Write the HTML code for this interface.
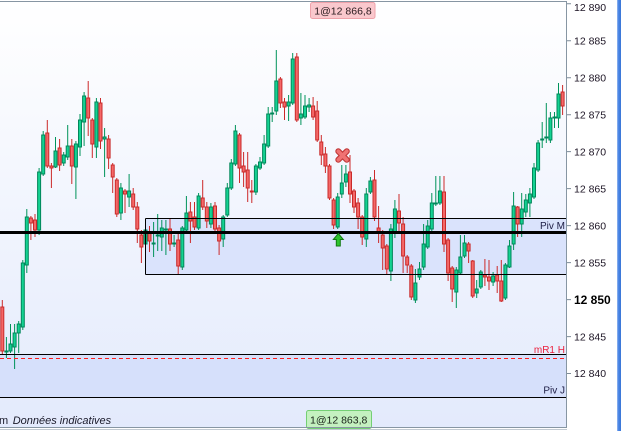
<!DOCTYPE html>
<html><head><meta charset="utf-8"><style>
html,body{margin:0;padding:0;background:#fff;}
body{width:621px;height:431px;overflow:hidden;}
svg{display:block;font-family:"Liberation Sans",sans-serif;}
</style></head><body>
<svg width="621" height="431" viewBox="0 0 621 431" xmlns="http://www.w3.org/2000/svg">
<defs>
<linearGradient id="bg" x1="0" y1="0" x2="0" y2="1">
<stop offset="0" stop-color="#ffffff"/><stop offset="1" stop-color="#e3eafc"/>
</linearGradient>
<linearGradient id="strip" x1="0" y1="0" x2="1" y2="0">
<stop offset="0" stop-color="#9dbcf0"/><stop offset="0.35" stop-color="#4a86e6"/><stop offset="1" stop-color="#3a76d6"/>
</linearGradient>
</defs>
<rect x="0" y="0" width="621" height="431" fill="#ffffff"/>
<rect x="0" y="1" width="566" height="426" fill="url(#bg)"/>
<rect x="145.5" y="218.5" width="420.5" height="56" fill="#dae3fc"/>
<rect x="0" y="354.5" width="566" height="43" fill="#d6e0fb"/>

<!-- wicks -->
<path fill="none" stroke="#00935a" stroke-width="1" d="M6.4 337V358 M10.5 324V353 M14.6 324V369 M18.7 321V353 M22.8 260V330 M26.8 209V273 M39.1 168V235 M43.2 131V176 M55.5 137V168 M63.7 152V166 M67.7 125V160 M75.9 141V199 M80 114V156 M84.1 92V146 M96.4 98V158 M104.6 128V177 M120.9 183V220 M129.1 174V207 M145.5 228V246 M153.6 222V257 M157.7 214V251 M161.8 220V251 M165.9 220V255 M174.1 235V247 M182.3 226V270 M186.4 196V232 M198.6 193V230 M210.9 203V228 M223.2 215V247 M227.3 183V217 M231.3 159V190 M235.4 125V166 M255.9 164V195 M260 157V170 M264.1 135V165 M268.2 107V148 M272.2 107V122 M276.3 50V115 M288.6 95V121 M292.7 53V105 M300.9 93V125 M305 95V119 M309.1 98V112 M337.7 193V229 M341.8 165V198 M345.9 165V187 M366.3 188V247 M370.4 177V194 M390.9 224V281 M394.9 200V238 M415.4 269V303 M419.5 262V280 M423.6 224V270 M427.7 220V249 M431.8 193V231 M435.8 176V206 M439.9 176V205 M456.3 267V308 M460.4 235V275 M464.5 235V258 M476.7 280V298 M480.8 270V289 M493.1 272V286 M505.4 263V300 M509.5 240V268 M513.6 192V250 M521.7 193V237 M525.8 194V217 M529.9 188V217 M534 163V199 M538.1 140V172 M542.2 122V148 M546.3 103V143 M550.4 112V143 M554.5 112V128 M558.5 83V128"/>
<path fill="none" stroke="#cc2a2a" stroke-width="1" d="M2.3 300V354 M30.9 216V240 M35 214V237 M47.3 120V168 M51.4 163V188 M59.6 139V171 M71.8 139V184 M88.2 81V136 M92.3 118V158 M100.5 98V149 M108.6 135V169 M112.7 163V193 M116.8 178V217 M125 189V213 M133.2 188V210 M137.3 202V243 M141.4 230V263 M149.5 226V252 M170 219V251 M178.2 233V274 M190.4 202V243 M194.5 202V230 M202.7 180V210 M206.8 202V228 M215 202V233 M219.1 225V255 M239.5 133V183 M243.6 152V187 M247.7 152V202 M251.8 180V203 M280.4 77V108 M284.5 98V120 M296.8 53V122 M313.1 97V120 M317.2 101V142 M321.3 135V165 M325.4 147V173 M329.5 164V200 M333.6 198V229 M350 155V203 M354 189V213 M358.1 198V229 M362.2 215V245 M374.5 170V221 M378.6 206V243 M382.7 230V270 M386.8 244V274 M399 194V233 M403.1 217V273 M407.2 255V273 M411.3 264V300 M444 176V252 M448.1 238V281 M452.2 266V302 M468.6 242V263 M472.7 260V298 M484.9 259V286 M489 260V290 M497.2 266V293 M501.3 260V302 M517.6 206V237 M562.6 85V115"/>

<!-- bodies -->
<path fill="#14d292" stroke="#00875a" stroke-width="1" d="M4.9 351h3v1h-3z M9 344h3v7h-3z M13.1 333h3v14h-3z M17.2 324h3v9h-3z M21.3 263h3v64h-3z M25.3 217h3v48h-3z M37.6 172h3v58h-3z M41.7 135h3v39h-3z M54 151h3v16h-3z M62.2 155h3v8h-3z M66.2 146h3v11h-3z M74.4 144h3v23h-3z M78.5 120h3v27h-3z M82.6 96h3v26h-3z M94.9 102h3v45h-3z M103.1 137h3v2h-3z M119.4 188h3v25h-3z M127.6 191h3v6h-3z M144 230h3v14h-3z M152.1 243h3v1h-3z M156.2 235h3v1h-3z M160.3 228h3v9h-3z M164.4 229h3v1h-3z M172.6 243h3v1h-3z M180.8 228h3v39h-3z M184.9 213h3v17h-3z M197.1 196h3v32h-3z M209.4 207h3v17h-3z M221.7 217h3v22h-3z M225.8 188h3v27h-3z M229.8 163h3v25h-3z M233.9 131h3v33h-3z M254.4 166h3v26h-3z M258.5 162h3v6h-3z M262.6 144h3v19h-3z M266.7 114h3v32h-3z M270.7 113h3v1h-3z M274.8 81h3v30h-3z M287.1 102h3v4h-3z M291.2 59h3v44h-3z M299.4 114h3v4h-3z M303.5 106h3v11h-3z M307.6 105h3v2h-3z M336.2 197h3v30h-3z M340.3 183h3v11h-3z M344.4 174h3v8h-3z M364.8 194h3v45h-3z M368.9 181h3v11h-3z M389.4 229h3v42h-3z M393.4 209h3v23h-3z M413.9 283h3v17h-3z M418 269h3v8h-3z M422.1 244h3v23h-3z M426.2 226h3v21h-3z M430.3 203h3v26h-3z M434.3 203h3v1h-3z M438.4 191h3v12h-3z M454.8 270h3v22h-3z M458.9 257h3v16h-3z M463 243h3v13h-3z M475.2 289h3v4h-3z M479.3 272h3v15h-3z M491.6 276h3v6h-3z M503.9 265h3v33h-3z M508 246h3v21h-3z M512.1 206h3v38h-3z M520.2 209h3v15h-3z M524.3 200h3v12h-3z M528.4 194h3v9h-3z M532.5 168h3v29h-3z M536.6 143h3v27h-3z M540.7 139h3v1h-3z M544.8 137h3v1h-3z M548.9 118h3v22h-3z M553 117h3v1h-3z M557 94h3v24h-3z"/>
<path fill="#f46868" stroke="#c92a2a" stroke-width="1" d="M0.8 307h3v44h-3z M29.4 218h3v5h-3z M33.5 220h3v10h-3z M45.8 133h3v33h-3z M49.9 166h3v2h-3z M58.1 148h3v17h-3z M70.3 146h3v20h-3z M86.7 98h3v20h-3z M90.8 120h3v24h-3z M99 103h3v38h-3z M107.1 139h3v19h-3z M111.2 165h3v12h-3z M115.3 180h3v34h-3z M123.5 191h3v3h-3z M131.7 194h3v13h-3z M135.8 207h3v22h-3z M139.9 235h3v12h-3z M148 233h3v8h-3z M168.5 229h3v15h-3z M176.7 240h3v26h-3z M188.9 212h3v9h-3z M193 217h3v10h-3z M201.2 198h3v9h-3z M205.3 207h3v14h-3z M213.5 206h3v23h-3z M217.6 228h3v13h-3z M238 135h3v33h-3z M242.1 166h3v6h-3z M246.2 170h3v18h-3z M250.3 191h3v1h-3z M278.9 79h3v24h-3z M283 102h3v5h-3z M295.3 57h3v63h-3z M311.6 106h3v11h-3z M315.7 111h3v29h-3z M319.8 142h3v13h-3z M323.9 154h3v12h-3z M328 166h3v32h-3z M332.1 200h3v25h-3z M348.5 172h3v22h-3z M352.5 191h3v16h-3z M356.6 203h3v14h-3z M360.7 217h3v20h-3z M373 180h3v37h-3z M377.1 228h3v5h-3z M381.2 235h3v13h-3z M385.3 246h3v23h-3z M397.5 211h3v12h-3z M401.6 224h3v32h-3z M405.7 257h3v8h-3z M409.8 266h3v31h-3z M442.5 192h3v52h-3z M446.6 240h3v33h-3z M450.7 268h3v21h-3z M467.1 244h3v7h-3z M471.2 261h3v35h-3z M483.4 275h3v2h-3z M487.5 277h3v4h-3z M495.7 275h3v6h-3z M499.8 281h3v20h-3z M516.1 207h3v17h-3z M561.1 92h3v14h-3z"/>

<!-- horizontal levels -->
<rect x="0" y="231" width="566" height="3" fill="#000"/>
<path fill="none" stroke="#000" stroke-width="1" d="M145.5 218.5H566 M145.5 274.5H566 M145.5 218.5V274.5 M0 354.5H566 M0 397.5H566"/>
<line x1="0" y1="358.5" x2="566" y2="358.5" stroke="#ff1f1f" stroke-width="1" stroke-dasharray="4 3"/>

<text x="565" y="229" font-size="10" text-anchor="end" fill="#1c1c44">Piv M</text>
<text x="565" y="353" font-size="10" text-anchor="end" fill="#ea1f3c">mR1 H</text>
<text x="565" y="393.5" font-size="10" text-anchor="end" fill="#1c1c44">Piv J</text>

<!-- markers -->
<g stroke-linecap="round">
<path d="M338.3 151.3L346.8 159.8M346.8 151.3L338.3 159.8" stroke="#c23a3a" stroke-width="6" fill="none"/>
<path d="M338.3 151.3L346.8 159.8M346.8 151.3L338.3 159.8" stroke="#f07272" stroke-width="3.6" fill="none"/>
</g>
<polygon points="338.3,233.5 343.3,239.5 340.3,239.5 340.3,246 336.3,246 336.3,239.5 333.3,239.5" fill="#2ec42e" stroke="#127a12" stroke-width="1"/>

<!-- trade labels -->
<rect x="310.5" y="2.5" width="64.5" height="16" rx="2" fill="#fac8cd" stroke="#eea2aa" stroke-width="1"/>
<text x="314.3" y="14.5" font-size="10.5" fill="#2a1a1e">1@12 866,8</text>
<rect x="306.5" y="410.5" width="65" height="18" rx="2" fill="#c4f1c0" stroke="#74cf74" stroke-width="1"/>
<text x="310" y="423.5" font-size="10.5" fill="#1a221a">1@12 863,8</text>

<!-- bottom text -->
<text x="-1" y="424" font-size="11" fill="#1a1a2a">m</text>
<text x="12.7" y="424" font-size="11" font-style="italic" fill="#1a1a2a">Données indicatives</text>

<!-- frame -->
<path fill="none" stroke="#8796a3" stroke-width="1" d="M0 1.5H566.5 M566.5 1V428 M0 427.5H566.5"/>
<line x1="0" y1="429.5" x2="567" y2="429.5" stroke="#c2cad2" stroke-width="1"/>
<rect x="567" y="0" width="50" height="431" fill="#ffffff"/>
<rect x="617" y="0" width="4" height="431" fill="url(#strip)"/>

<!-- axis ticks -->
<path fill="none" stroke="#7d8c99" stroke-width="1" d="M567 3.7H571 M567 40.7H571 M567 77.7H571 M567 114.7H571 M567 151.6H571 M567 188.6H571 M567 225.6H571 M567 262.6H571 M567 299.6H571 M567 336.6H571 M567 373.5H571"/>
<g font-size="10.5" fill="#1c1424">
<text x="574" y="11">12 890</text>
<text x="574" y="44.4">12 885</text>
<text x="574" y="81.4">12 880</text>
<text x="574" y="118.4">12 875</text>
<text x="574" y="155.3">12 870</text>
<text x="574" y="192.3">12 865</text>
<text x="574" y="229.3">12 860</text>
<text x="574" y="266.3">12 855</text>
<text x="574" y="303.8" font-size="12" font-weight="bold" fill="#000">12 850</text>
<text x="574" y="340.3">12 845</text>
<text x="574" y="377.2">12 840</text>
</g>
</svg>
</body></html>
